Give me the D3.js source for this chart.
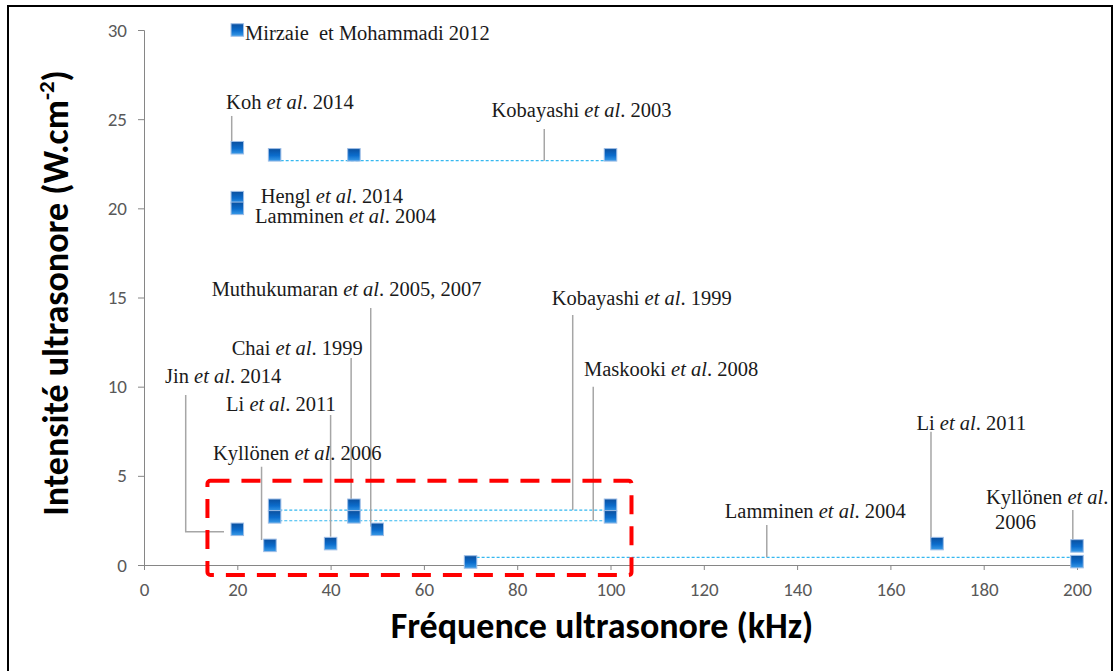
<!DOCTYPE html>
<html><head><meta charset="utf-8">
<script src="https://cdn.jsdelivr.net/npm/d3@7"></script>
<style>body{margin:0;background:#fff}svg{display:block}
.tk text{font-family:Carlito,Calibri,Lato,sans-serif !important;font-size:19px !important;fill:#595959 !important}</style>
</head><body>
<svg id="c" width="1117" height="671"></svg>
<script>
// ---- data ----
const xTicks = [0,20,40,60,80,100,120,140,160,180,200];
const yTicks = [0,5,10,15,20,25,30];
// points: frequency (kHz), intensity (W/cm2)
const freq      = [20, 20,   28, 45, 100, 20,   20,  20, 27,  28,   45,   100,  28,  45,  100, 40,  50, 70,   170, 200,  200];
const intensity = [30, 23.4, 23, 23, 23,  20.6, 20,  2,  1.1, 3.35, 3.35, 3.35, 2.7, 2.7, 2.7, 1.2, 2,  0.17, 1.2, 1.07, 0.19];
// dashed links between points of a same study: [x1, x2, y]
const linkX1 = [29.3, 29, 29, 71.3];
const linkX2 = [98.6, 98.6, 98.6, 198.7];
const linkY  = [22.67, 3.08, 2.48, 0.43];
// annotation texts: [before, italic, after]
const labelText = [
  ["Mirzaie  et Mohammadi 2012","",""],
  ["Koh ","et al",". 2014"],
  ["Kobayashi ","et al",". 2003"],
  ["Hengl ","et al",". 2014"],
  ["Lamminen ","et al",". 2004"],
  ["Muthukumaran ","et al",". 2005, 2007"],
  ["Chai ","et al",". 1999"],
  ["Jin ","et al",". 2014"],
  ["Li ","et al",". 2011"],
  ["Kyllönen ","et al",". 2006"],
  ["Kobayashi ","et al",". 1999"],
  ["Maskooki ","et al",". 2008"],
  ["Lamminen ","et al",". 2004"],
  ["Li ","et al",". 2011"],
  ["Kyllönen ","et al","."],
  ["2006","",""]
];
const labelX = [21.65, 17.6, 74.5, 25.0, 23.8, 14.5, 18.8, 4.5, 17.6, 14.8, 87.4, 94.3, 124.5, 165.6, 180.5, 182.4];
const labelY = [29.44, 25.57, 25.14, 20.32, 19.18, 15.08, 11.78, 10.19, 8.65, 5.89, 14.58, 10.6, 2.64, 7.57, 3.42, 2.0];
// leader lines (polylines) in data units
const leaders = [
  [[18.8,25.18],[18.8,23.46]],
  [[85.8,24.45],[85.8,22.67]],
  [[48.6,14.41],[48.6,2.15]],
  [[44.4,11.61],[44.4,3.2]],
  [[8.94,9.53],[8.94,1.87],[17.15,1.87]],
  [[40.0,8.41],[40.0,1.59]],
  [[25.2,5.51],[25.2,1.4]],
  [[91.9,14.02],[91.9,3.08]],
  [[96.3,10.0],[96.3,2.48]],
  [[133.5,2.24],[133.5,0.43]],
  [[168.7,7.47],[168.7,1.31]],
  [[199.1,3.08],[199.1,1.22]]
];
// highlighted region (x range, y range)
const boxX = [13.6, 104.5];
const boxY = [-0.56, 4.72];

// ---- drawing ----
const svg = d3.select("#c");
const x = d3.scaleLinear().domain([0,200]).range([144,1077]);
const y = d3.scaleLinear().domain([0,30]).range([565,30]);
const sans = "Carlito, Calibri, Lato, sans-serif";

const defs = svg.append("defs");
const g = defs.append("linearGradient").attr("id","mk").attr("x1",0).attr("y1",0).attr("x2",0).attr("y2",1);
g.append("stop").attr("offset","0%").attr("stop-color","#0a4f9e");
g.append("stop").attr("offset","55%").attr("stop-color","#0b6ccc");
g.append("stop").attr("offset","100%").attr("stop-color","#3a9be8");
defs.append("clipPath").attr("id","frame").append("rect").attr("x",8).attr("y",6).attr("width",1104).attr("height",680);

svg.append("rect").attr("x",8).attr("y",6).attr("width",1104).attr("height",680)
  .attr("fill","#fff").attr("stroke","#000").attr("stroke-width",2);

const root = svg.append("g").attr("clip-path","url(#frame)");

// axes
const axisColor = "#868686";
const yAxis = root.append("g").attr("class","tk").attr("transform",`translate(${x(0)},0)`)
  .call(d3.axisLeft(y).tickValues(yTicks).tickSize(6).tickPadding(11));
const xAxis = root.append("g").attr("class","tk").attr("transform",`translate(0,${y(0)})`)
  .call(d3.axisBottom(x).tickValues(xTicks).tickSize(5).tickPadding(13));
[yAxis,xAxis].forEach(a=>{
  a.select(".domain").attr("stroke",axisColor);
  a.selectAll(".tick line").attr("stroke",axisColor);
  a.selectAll(".tick text").style("font-size","19px").style("font-family",sans).style("fill","#595959");
});

// dashed links
root.selectAll(".link").data(linkY).join("line")
  .attr("x1",(d,i)=>x(linkX1[i])).attr("x2",(d,i)=>x(linkX2[i]))
  .attr("y1",d=>y(d)).attr("y2",d=>y(d))
  .attr("stroke","#35b8f0").attr("stroke-width",1.2).attr("stroke-dasharray","3,2");

// leaders
const line = d3.line().x(d=>x(d[0])).y(d=>y(d[1]));
root.selectAll(".leader").data(leaders).join("path")
  .attr("d",line).attr("fill","none").attr("stroke","#a6a6a6").attr("stroke-width",1.5);

// markers
const ms = 12.5;
root.selectAll(".pt").data(freq).join("rect")
  .attr("x",(d)=>x(d)-ms/2).attr("y",(d,i)=>y(intensity[i])-ms/2)
  .attr("width",ms).attr("height",ms)
  .attr("fill","url(#mk)").attr("stroke","#9dbde6").attr("stroke-width",1);

// highlight box
root.append("rect")
  .attr("x",x(boxX[0])).attr("y",y(boxY[1]))
  .attr("width",x(boxX[1])-x(boxX[0])).attr("height",y(boxY[0])-y(boxY[1]))
  .attr("rx",3)
  .attr("fill","none").attr("stroke","#ff0000").attr("stroke-width",4)
  .attr("stroke-dasharray","19,12");

// labels
const lab = root.selectAll(".lab").data(labelText).join("text")
  .attr("x",(d,i)=>x(labelX[i])).attr("y",(d,i)=>y(labelY[i]))
  .attr("font-family","'Liberation Serif','Times New Roman',serif")
  .attr("font-size",20.5).attr("fill","#1a1a1a")
  .attr("xml:space","preserve");
lab.each(function(d){
  const t = d3.select(this);
  t.append("tspan").text(d[0]);
  if(d[1]) t.append("tspan").attr("font-style","italic").text(d[1]);
  if(d[2]) t.append("tspan").text(d[2]);
});

// axis titles
root.append("text").attr("x",602).attr("y",638).attr("text-anchor","middle")
  .attr("font-family",sans).attr("font-weight","bold")
  .attr("font-size",36).attr("fill","#000")
  .text("Fréquence ultrasonore (kHz)");
const yt = root.append("text").attr("transform","translate(68,293) rotate(-90)").attr("text-anchor","middle")
  .attr("font-family",sans).attr("font-weight","bold")
  .attr("font-size",36).attr("fill","#000");
yt.append("tspan").text("Intensité ultrasonore (W.cm");
yt.append("tspan").attr("font-size",23).attr("dy",-14).text("-2");
yt.append("tspan").attr("dy",14).text(")");
</script>
</body></html>
